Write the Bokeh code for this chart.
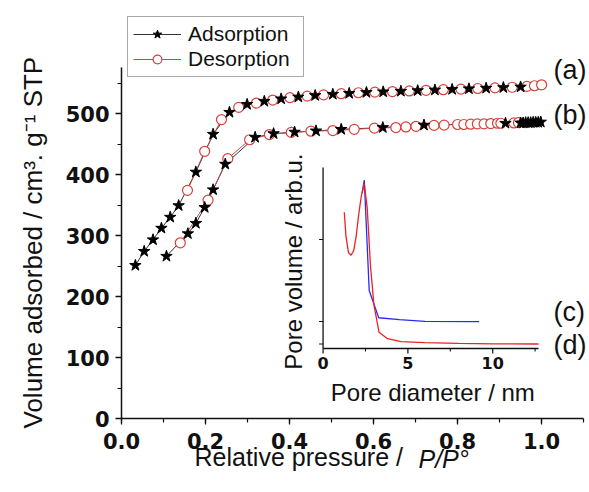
import math
from bokeh.plotting import figure
from bokeh.models import (Range1d, Legend, LegendItem, Title, SingleIntervalTicker,
                          NumeralTickFormatter)
from bokeh.core.properties import value
from bokeh.embed import file_html
from bokeh.resources import INLINE

# ---------------- data ----------------
# isotherm (a): upper curve
upper_ads_x = [0.033, 0.054, 0.075, 0.095, 0.116, 0.136, 0.177, 0.218, 0.257, 0.299,
               0.340, 0.380, 0.421, 0.461, 0.503, 0.542, 0.583, 0.623, 0.665, 0.705,
               0.746, 0.787, 0.827, 0.868, 0.909, 0.950]
upper_ads_y = [251, 274, 293, 312, 330, 349, 404, 466, 502, 515,
               520, 524, 527, 529.5, 531.5, 533, 534.5, 535.5, 536.5, 537.5,
               538.5, 539.5, 540.5, 541.5, 542.5, 543.5]
upper_des_x = [0.157, 0.198, 0.238, 0.279, 0.321, 0.360, 0.401, 0.442, 0.481, 0.523,
               0.564, 0.603, 0.645, 0.685, 0.725, 0.766, 0.808, 0.848, 0.889, 0.930,
               0.965, 0.983, 1.000]
upper_des_y = [374, 438, 490, 510, 517, 522, 526, 528.5, 530.5, 532.5,
               534, 535, 536, 537, 538, 539, 540, 541, 542, 543,
               544.5, 545.5, 547]
# isotherm (b): lower curve
lower_ads_x = [0.107, 0.158, 0.177, 0.198, 0.218, 0.247, 0.318, 0.362, 0.412, 0.463,
               0.523, 0.622, 0.720, 0.914, 0.950, 0.956, 0.962, 0.968, 0.974, 0.980,
               0.986, 0.992, 0.998]
lower_ads_y = [266, 303, 320, 346, 375, 417, 461, 467, 469.5, 471.5,
               474, 477, 481, 484, 484.5, 484.5, 485, 485, 485, 485.5,
               485.5, 485.5, 486]
lower_des_x = [0.140, 0.206, 0.253, 0.305, 0.352, 0.404, 0.451, 0.503, 0.554, 0.602,
               0.653, 0.677, 0.701, 0.744, 0.768, 0.800, 0.815, 0.831, 0.847, 0.863,
               0.879, 0.895, 0.903, 0.934, 0.945]
lower_des_y = [288, 358, 426, 457, 465.5, 469, 471, 472, 474, 476,
               477, 478, 479, 480.5, 481, 482, 482, 482.5, 483, 483,
               483.5, 484, 484, 484.5, 485]

# inset: pore size distributions (arb. units)
pore_c_x = [2.30, 2.43, 2.72, 3.28, 4.50, 6.00, 9.20]
pore_c_y = [0.86, 0.93, 0.32, 0.17, 0.16, 0.15, 0.149]
pore_d_x = [1.25, 1.35, 1.50, 1.65, 1.80, 1.95, 2.10, 2.25, 2.43, 2.60,
            2.80, 3.00, 3.30, 3.80, 4.60, 6.00, 8.00, 10.00, 12.70]
pore_d_y = [0.753, 0.62, 0.53, 0.515, 0.54, 0.62, 0.74, 0.84, 0.91, 0.78,
            0.45, 0.24, 0.09, 0.054, 0.038, 0.032, 0.028, 0.026, 0.025]

inset_x_ticks = [0, 5, 10]
inset_x_tick_labels = ["0", "5", "10"]
inset_x_minor = [2.5, 7.5, 12.5]
inset_y_ticks = [0.025, 0.149, 0.602]
inset_x_max = 12.7
inset_y_max = 1.0

curve_labels = ["(a)", "(b)", "(c)", "(d)"]
curve_label_y = [572, 497, 174, 121]

# ---------------- figure ----------------
W, H = 589, 492
p = figure(width=W, height=H, output_backend="svg", toolbar_location=None,
           x_range=Range1d(0, 1.114), y_range=Range1d(0, 685.25),
           min_border_left=120, min_border_right=0, min_border_top=0,
           min_border_bottom=74)
p.outline_line_color = None
p.grid.visible = False
p.background_fill_color = "white"
p.border_fill_color = "white"

# inset ranges
p.extra_x_ranges = {"ix": Range1d(-11.882, 15.706)}
p.extra_y_ranges = {"iy": Range1d(-0.3867, 1.9227)}

TICK_FONT = "DejaVu Sans"
LABEL_FONT = "Liberation Sans"

xa = p.xaxis[0]
xa.bounds = (0, 1.1)
xa.ticker = SingleIntervalTicker(interval=0.2, num_minor_ticks=2)
xa.formatter = NumeralTickFormatter(format="0.0")
ya = p.yaxis[0]
ya.bounds = (0, 575)
ya.ticker = SingleIntervalTicker(interval=100, num_minor_ticks=2)
for ax in (xa, ya):
    ax.axis_line_width = 1.5
    ax.axis_line_color = "#111111"
    ax.major_tick_line_color = "#111111"
    ax.minor_tick_line_color = "#111111"
    ax.major_tick_line_width = 1.3
    ax.minor_tick_line_width = 1.2
    ax.major_tick_in = 0
    ax.major_tick_out = 6
    ax.minor_tick_in = 0
    ax.minor_tick_out = 4
    ax.major_label_text_font = TICK_FONT
    ax.major_label_text_font_style = "bold"
    ax.major_label_text_font_size = "21px"
    ax.major_label_text_color = "#111111"
xa.major_label_standoff = 8
ya.major_label_standoff = 6

ADS_LINE = "#333333"
DES_LINE = "#c04a4a"
DES_MARK = "#d8403a"

# main curves
l_ua = p.line(upper_ads_x, upper_ads_y, line_color=ADS_LINE, line_width=1)
l_la = p.line(lower_ads_x, lower_ads_y, line_color=ADS_LINE, line_width=1)
l_ud = p.line(upper_des_x, upper_des_y, line_color=DES_LINE, line_width=1)
l_ld = p.line(lower_des_x, lower_des_y, line_color=DES_LINE, line_width=1)
c_ud = p.scatter(upper_des_x, upper_des_y, marker="circle", size=10,
                 line_color=DES_MARK, fill_color="white", line_width=1.2)
c_ld = p.scatter(lower_des_x, lower_des_y, marker="circle", size=10,
                 line_color=DES_MARK, fill_color="white", line_width=1.2)
s_ua = p.scatter(upper_ads_x, upper_ads_y, marker="star", size=12,
                 line_color="black", fill_color="black")
s_la = p.scatter(lower_ads_x, lower_ads_y, marker="star", size=12,
                 line_color="black", fill_color="black")

# curve labels
p.text(x=[1.0285] * 4, y=curve_label_y, text=curve_labels,
       text_font=value(LABEL_FONT), text_font_size="27px",
       text_align="left", text_baseline="middle", text_color="#111111")

# ---------------- inset ----------------
IPX_X = 17.0   # px per nm
IPX_Y = 181.0  # px per unit
ink = dict(x_range_name="ix", y_range_name="iy")
p.segment(x0=[0, 0], y0=[0, 0], x1=[0, inset_x_max], y1=[inset_y_max, 0],
          line_color="#111111", line_width=1.3, **ink)
p.segment(x0=inset_x_ticks, y0=[0] * 3, x1=inset_x_ticks, y1=[-5 / IPX_Y] * 3,
          line_color="#111111", line_width=1.2, **ink)
p.segment(x0=inset_x_minor, y0=[0] * 3, x1=inset_x_minor, y1=[-3 / IPX_Y] * 3,
          line_color="#111111", line_width=1.1, **ink)
p.segment(x0=[0] * 3, y0=inset_y_ticks, x1=[-4 / IPX_X] * 3, y1=inset_y_ticks,
          line_color="#111111", line_width=1.1, **ink)
p.text(x=inset_x_ticks, y=[-8 / IPX_Y] * 3, text=inset_x_tick_labels,
       text_font=value(TICK_FONT), text_font_style="bold", text_font_size="16px",
       text_align="center", text_baseline="top", text_color="#111111", **ink)
p.text(x=[6.47], y=[-0.245], text=["Pore diameter / nm"],
       text_font=value(LABEL_FONT), text_font_size="24px",
       text_align="center", text_baseline="alphabetic", text_color="#111111", **ink)
p.text(x=[-1.76], y=[0.48], text=["Pore volume / arb.u."], angle=math.pi / 2,
       text_font=value(LABEL_FONT), text_font_size="24px",
       text_align="center", text_baseline="alphabetic", text_color="#111111", **ink)
p.line(pore_c_x, pore_c_y, line_color="#2b2bf0", line_width=1.3, **ink)
p.line(pore_d_x, pore_d_y, line_color="#f02020", line_width=1.3, **ink)

# ---------------- axis titles (side-panel titles) ----------------
p.add_layout(Title(text="Volume adsorbed / cm³. g⁻¹ STP", align="left", offset=-10,
                   vertical_align="bottom", standoff=30,
                   text_font=LABEL_FONT, text_font_size="26px", text_font_style="normal",
                   text_color="#111111"), "left")
p.add_layout(Title(text="Relative pressure / ", align="left", offset=73,
                   vertical_align="bottom", standoff=-22,
                   text_font=LABEL_FONT, text_font_size="25px", text_font_style="normal",
                   text_color="#111111"), "below")
p.add_layout(Title(text="P/P°", align="left", offset=297,
                   vertical_align="top", standoff=-30,
                   text_font=LABEL_FONT, text_font_size="25px", text_font_style="italic",
                   text_color="#111111"), "below")

# ---------------- legend ----------------
legend = Legend(items=[LegendItem(label="Adsorption", renderers=[l_ua, s_ua]),
                       LegendItem(label="Desorption", renderers=[l_ud, c_ud])],
                location=(6, 341), orientation="vertical",
                label_text_font=LABEL_FONT, label_text_font_size="21px",
                label_text_color="#111111",
                glyph_width=48, glyph_height=22, label_height=22, label_width=110,
                label_standoff=7, spacing=1, padding=5, margin=0,
                border_line_color="#555555", border_line_width=1,
                background_fill_color="white", background_fill_alpha=1)
p.add_layout(legend)

open("out.html", "w").write(file_html(p, INLINE))
